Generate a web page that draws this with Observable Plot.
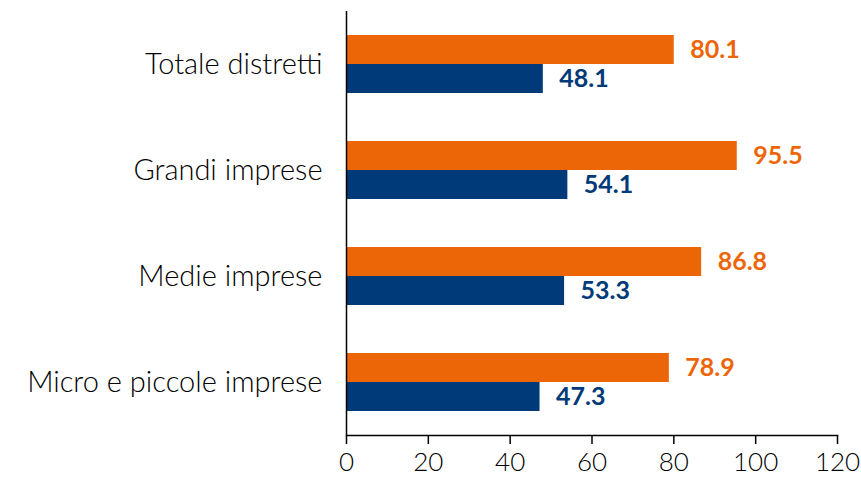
<!DOCTYPE html>
<html>
<head>
<meta charset="utf-8">
<script src="https://cdn.jsdelivr.net/npm/d3@7"></script>
<script src="https://cdn.jsdelivr.net/npm/@observablehq/plot@0.6"></script>
<style>
  html, body { margin: 0; padding: 0; background: #fff; }
</style>
</head>
<body>
<div id="chart"></div>
<script>
const categories = ["Totale distretti", "Grandi imprese", "Medie imprese", "Micro e piccole imprese"];
const seriesNames = ["Serie A", "Serie B"];
const valuesA = [80.1, 95.5, 86.8, 78.9];
const valuesB = [48.1, 54.1, 53.3, 47.3];
const xTicks = [0, 20, 40, 60, 80, 100, 120];
const colors = ["#EC6608", "#003A78"];

const data = [];
categories.forEach((c, i) => {
  data.push({category: c, series: seriesNames[0], value: valuesA[i]});
  data.push({category: c, series: seriesNames[1], value: valuesB[i]});
});

const chart = Plot.plot({
  width: 861,
  height: 483,
  marginLeft: 346,
  marginRight: 24,
  marginTop: 10,
  marginBottom: 47,
  style: {fontFamily: "Lato, sans-serif", color: "#000", background: "#fff"},
  x: {domain: [0, 120], ticks: xTicks},
  y: {domain: seriesNames, paddingInner: 0, paddingOuter: 0.77, axis: null},
  fy: {domain: categories, padding: 0, label: null},
  color: {domain: seriesNames, range: colors},
  marks: [
    Plot.barX(data, {fy: "category", y: "series", x: "value", fill: "series"}),
    Plot.text(data, {fy: "category", y: "series", x: "value", text: d => d.value.toFixed(1),
      fill: "series", textAnchor: "start", dx: 16, fontSize: 25, fontWeight: "bold"}),
    Plot.ruleX([0], {stroke: "#000", strokeWidth: 1.5}),
    Plot.frame({anchor: "bottom", facetAnchor: "bottom", stroke: "#000", strokeWidth: 1.5}),
    Plot.axisX({ticks: xTicks, tickSize: 9, tickPadding: 8, fontSize: 26, fontWeight: 300, label: null, stroke: "#000", strokeWidth: 1.5, facetAnchor: "bottom"}),
    Plot.axisFy({anchor: "left", tickSize: 0, tickPadding: 24, fontSize: 29, fontWeight: 300, label: null})
  ]
});
document.getElementById("chart").appendChild(chart);
</script>
</body>
</html>
